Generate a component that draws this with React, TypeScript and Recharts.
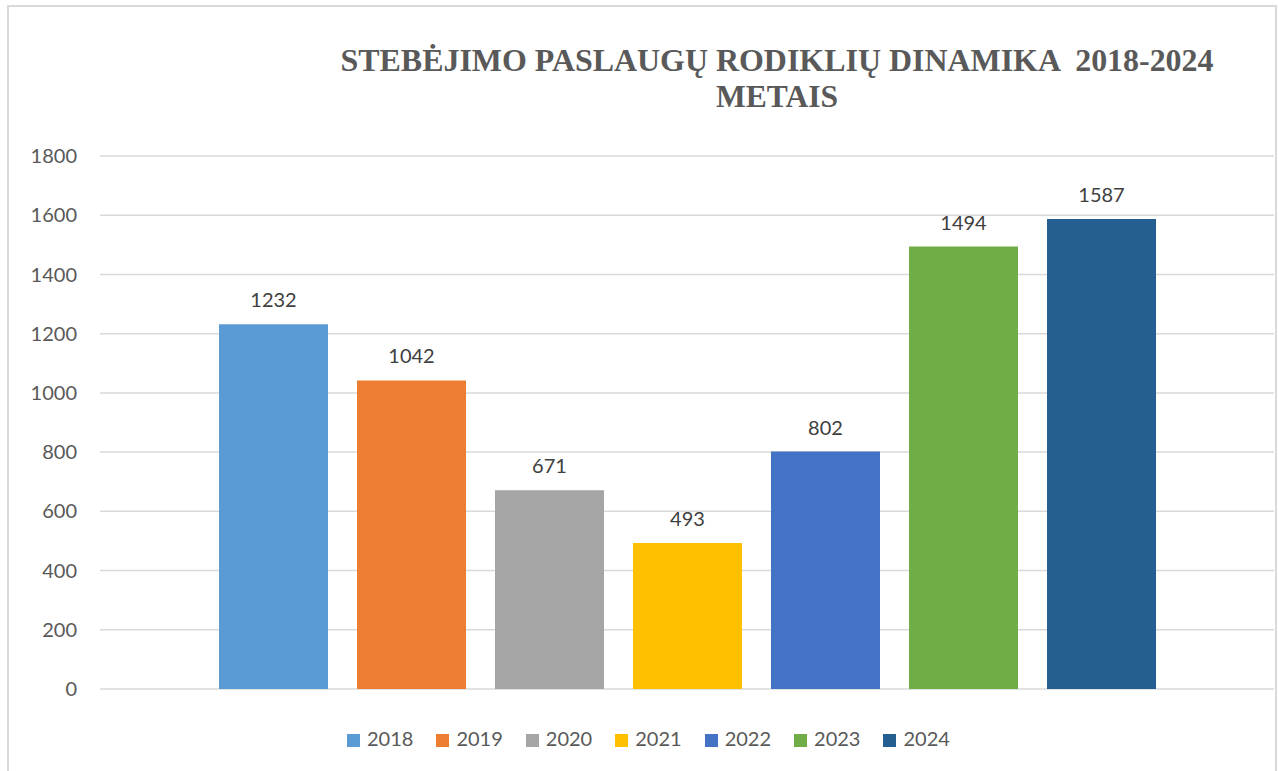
import { Bar, BarChart, CartesianGrid, LabelList, Legend, XAxis, YAxis } from 'recharts'

const years = ['2018', '2019', '2020', '2021', '2022', '2023', '2024']
const values = [1232, 1042, 671, 493, 802, 1494, 1587]
const colors = ['#5b9bd5', '#ed7d31', '#a5a5a5', '#ffc000', '#4472c4', '#70ad47', '#255e91']
const yTicks = [0, 200, 400, 600, 800, 1000, 1200, 1400, 1600, 1800]
const titleLines = ['STEBĖJIMO PASLAUGŲ RODIKLIŲ DINAMIKA  2018-2024', 'METAIS']

const row: Record<string, string | number> = { name: '' }
years.forEach((y, i) => (row[y] = values[i]))
const data = [row]

const titleFont = "'Liberation Serif', 'Times New Roman', serif"

export default function App() {
  return (
    <div style={{ position: 'absolute', left: 0, top: 0, width: 1279, height: 771, overflow: 'hidden', background: '#fff' }}>
      <div style={{ position: 'absolute', left: 7, top: 5, width: 1266, height: 800, border: '2px solid #d9d9d9' }} />
      <svg width={1279} height={130} style={{ position: 'absolute', left: 0, top: 0 }}>
        <text x={777} y={71} textAnchor="middle" fontFamily={titleFont} fontWeight="bold" fontSize={32} fill="#595959" textLength={873} lengthAdjust="spacingAndGlyphs" style={{ whiteSpace: 'pre' }}>
          {titleLines[0]}
        </text>
        <text x={777} y={107} textAnchor="middle" fontFamily={titleFont} fontWeight="bold" fontSize={32} fill="#595959" textLength={122} lengthAdjust="spacingAndGlyphs">
          {titleLines[1]}
        </text>
      </svg>
      <div style={{ position: 'absolute', left: 0, top: 0 }}>
        <BarChart
          width={1279}
          height={771}
          data={data}
          margin={{ top: 156, right: 5, bottom: 58, left: 0 }}
          barCategoryGap={119}
          barGap={29}
          style={{ fontFamily: 'Lato, sans-serif' }}
        >
          <CartesianGrid vertical={false} stroke="#d9d9d9" strokeWidth={1.5} />
          <XAxis dataKey="name" hide />
          <YAxis
            width={100}
            domain={[0, 1800]}
            ticks={yTicks}
            axisLine={false}
            tickLine={false}
            tickSize={0}
            tickMargin={23}
            tick={{ fill: '#595959', fontSize: 20 }}
          />
          <Legend
            iconType="square"
            iconSize={13}
            align="left"
            verticalAlign="bottom"
            wrapperStyle={{ left: 347, top: 726, width: 700, fontSize: 20, color: '#595959' }}
            formatter={(v) => <span style={{ color: '#595959', marginLeft: 3, marginRight: 13 }}>{v}</span>}
          />
          {years.map((y, i) => (
            <Bar key={y} dataKey={y} fill={colors[i]} isAnimationActive={false}>
              <LabelList dataKey={y} position="top" offset={17} fill="#404040" fontSize={20} />
            </Bar>
          ))}
        </BarChart>
      </div>
    </div>
  )
}
